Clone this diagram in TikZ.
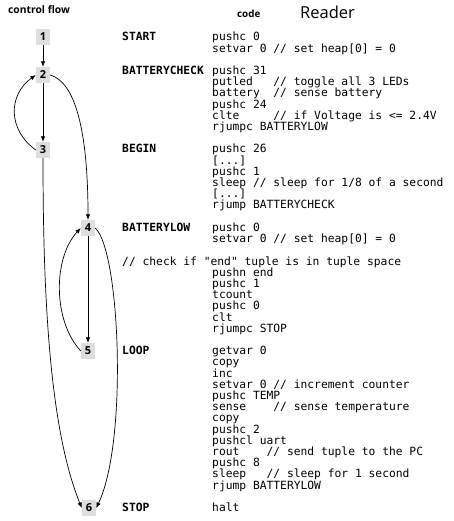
\documentclass[tikz,border=0pt]{standalone}
\usepackage{fontspec}
\setmainfont{Open Sans}
\newfontfamily\codefont{DejaVu Sans Mono}
\usetikzlibrary{arrows.meta}

% one listing line, and a block of lines set on a fixed 11.2pt grid
\newcommand\codeln[1]{\hbox{#1}}
\newcommand\codeblock[1]{\vtop{\baselineskip=11.2pt\lineskiplimit=-\maxdimen\lineskip=0pt\relax #1}}

\tikzset{
  blk/.style={fill=black!13, minimum width=14pt, minimum height=16pt, inner sep=0pt,
              font=\bfseries\fontsize{11}{11}\selectfont},
  flow/.style={-{Latex[length=5.5pt,width=4.5pt]}, line width=0.7pt},
  lbl/.style={anchor=base west, inner sep=0pt, font=\codefont\bfseries\fontsize{11.3}{11.2}\selectfont},
  code/.style={anchor=base west, inner sep=0pt, font=\codefont\fontsize{11.3}{11.2}\selectfont},
  head/.style={anchor=west, inner sep=0pt}
}

\begin{document}
\begin{tikzpicture}[x=1pt,y=1pt]
\useasboundingbox (0,0) rectangle (453,-521);

% column headings
\node[head, font=\bfseries\fontsize{10.3}{11}\selectfont] (hflow) at (8,-10) {control flow};
\node[head, font=\bfseries\fontsize{9.8}{11}\selectfont] (hcode) at (237,-14) {code};
\node[head, font=\fontsize{16.5}{18}\selectfont] (hreader) at (300,-12) {Reader};

% basic blocks
\node[blk] (n1) at (43,-37) {1};
\node[blk] (n2) at (43,-75) {2};
\node[blk] (n3) at (43,-150) {3};
\node[blk] (n4) at (88,-228) {4};
\node[blk] (n5) at (88,-351) {5};
\node[blk] (n6) at (89,-508) {6};

% control flow edges
\draw[flow] (n1) -- (n2);
\draw[flow] (n2) -- (n3);
\draw[flow] (n3.west) .. controls +(-28,20) and +(-28,-20) .. (n2.west);
\draw[flow] (n2.east) .. controls (75,-82) and (88,-130) .. (n4.north);
\draw[flow] (n3.south) .. controls (43,-300) and (50,-430) .. (n6.west);
\draw[flow] (n4) -- (n5);
\draw[flow] (n5.west) .. controls +(-28,30) and +(-28,-30) .. (n4.west);
\draw[flow] (n4.east) .. controls (120,-250) and (128,-442) .. (n6.east);

% labels
\node[lbl] (lstart) at (122,-41) {START};
\node[lbl] (lcheck) at (122,-74.6) {BATTERYCHECK};
\node[lbl] (lbegin) at (122,-153) {BEGIN};
\node[lbl] (llow)   at (122,-231.4) {BATTERYLOW};
\node[lbl] (lloop)  at (122,-354.6) {LOOP};
\node[lbl] (lstop)  at (122,-511.4) {STOP};

% listing
\node[code] (cstart) at (212,-41) {\codeblock{%
  \codeln{pushc 0}
  \codeln{setvar 0 // set heap[0] = 0}}};
\node[code] (ccheck) at (212,-74.6) {\codeblock{%
  \codeln{pushc 31}
  \codeln{putled~~~// toggle all 3 LEDs}
  \codeln{battery~~// sense battery}
  \codeln{pushc 24}
  \codeln{clte~~~~~// if Voltage is <= 2.4V}
  \codeln{rjumpc BATTERYLOW}}};
\node[code] (cbegin) at (212,-153) {\codeblock{%
  \codeln{pushc 26}
  \codeln{[...]}
  \codeln{pushc 1}
  \codeln{sleep // sleep for 1/8 of a second}
  \codeln{[...]}
  \codeln{rjump BATTERYCHECK}}};
\node[code] (clow) at (212,-231.4) {\codeblock{%
  \codeln{pushc 0}
  \codeln{setvar 0 // set heap[0] = 0}}};
\node[code] (cnote) at (122,-265) {// check if "end" tuple is in tuple space};
\node[code] (ctuple) at (212,-276.2) {\codeblock{%
  \codeln{pushn end}
  \codeln{pushc 1}
  \codeln{tcount}
  \codeln{pushc 0}
  \codeln{clt}
  \codeln{rjumpc STOP}}};
\node[code] (cloop) at (212,-354.6) {\codeblock{%
  \codeln{getvar 0}
  \codeln{copy}
  \codeln{inc}
  \codeln{setvar 0 // increment counter}
  \codeln{pushc TEMP}
  \codeln{sense~~~~// sense temperature}
  \codeln{copy}
  \codeln{pushc 2}
  \codeln{pushcl uart}
  \codeln{rout~~~~// send tuple to the PC}
  \codeln{pushc 8}
  \codeln{sleep~~~// sleep for 1 second}
  \codeln{rjump BATTERYLOW}}};
\node[code] (cstop) at (212,-511.4) {halt};
\end{tikzpicture}
\end{document}
